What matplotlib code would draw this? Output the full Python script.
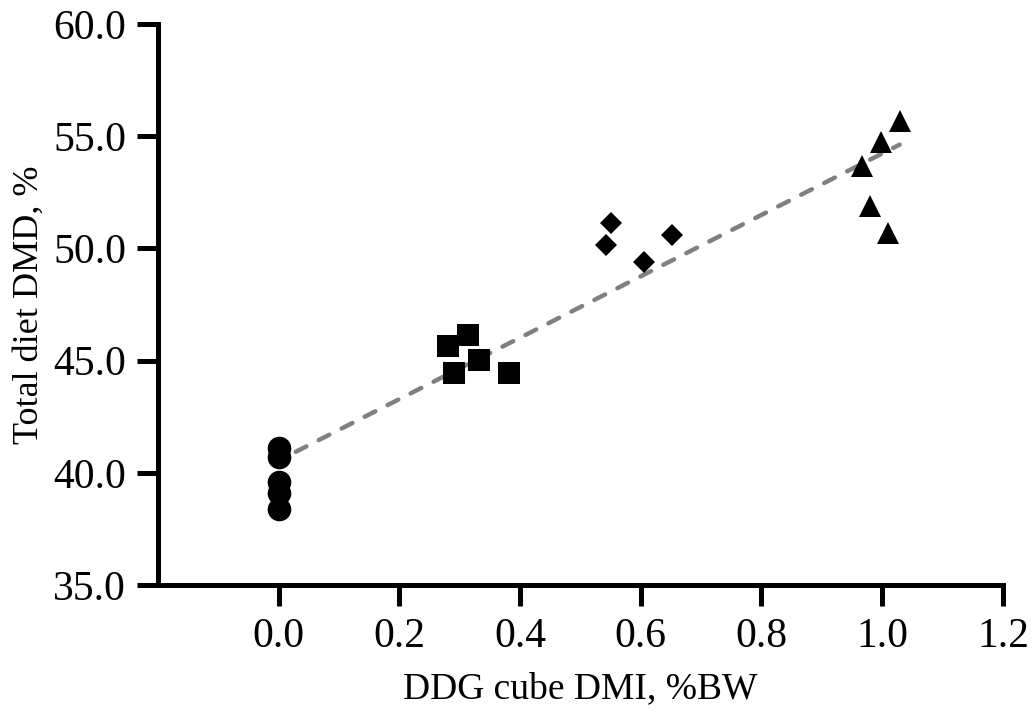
import numpy as np
import matplotlib
matplotlib.use("Agg")
import matplotlib.pyplot as plt
from matplotlib.ticker import FormatStrFormatter

# Data
circle_x = [0.0, 0.0, 0.0, 0.0, 0.0]
circle_y = [41.1, 40.7, 39.6, 39.1, 38.4]
square_x = [0.281, 0.314, 0.332, 0.291, 0.381]
square_y = [45.65, 46.14, 45.05, 44.47, 44.43]
diamond_x = [0.550, 0.542, 0.606, 0.651]
diamond_y = [51.15, 50.14, 49.41, 50.60]
triangle_x = [1.029, 0.998, 0.966, 0.980, 1.010]
triangle_y = [55.70, 54.74, 53.66, 51.90, 50.70]
x_ticks = [0.0, 0.2, 0.4, 0.6, 0.8, 1.0, 1.2]
y_ticks = [35.0, 40.0, 45.0, 50.0, 55.0, 60.0]

plt.rcParams['font.family'] = ['Liberation Serif', 'DejaVu Serif']

fig = plt.figure(figsize=(10.36, 7.17), dpi=100)
ax = fig.add_axes([0.1525, 0.184, 0.8155, 0.7825])

all_x = np.array(circle_x + square_x + diamond_x + triangle_x)
all_y = np.array(circle_y + square_y + diamond_y + triangle_y)
slope, intercept = np.polyfit(all_x, all_y, 1)
xs = np.array([all_x.min(), all_x.max()])
ax.plot(xs, slope * xs + intercept, color='#808080', lw=3.2,
        linestyle=(1.5, (2.7, 3.1)), dash_capstyle='round', zorder=1)

ax.plot(circle_x, circle_y, 'o', color='black', ms=17, mew=0, zorder=3)
ax.plot(square_x, square_y, 's', color='black', ms=16.5, mew=0, zorder=3)
ax.plot(diamond_x, diamond_y, 'D', color='black', ms=11.7, mew=0, zorder=3)
ax.plot(triangle_x, triangle_y, '^', color='black', ms=16.3, mew=0, zorder=3)

ax.set_xlim(-0.2, 1.2)
ax.set_ylim(35, 60)
ax.set_xticks(x_ticks)
ax.set_yticks(y_ticks)
ax.xaxis.set_major_formatter(FormatStrFormatter('%.1f'))
ax.yaxis.set_major_formatter(FormatStrFormatter('%.1f'))

for s in ['top', 'right']:
    ax.spines[s].set_visible(False)
for s in ['left', 'bottom']:
    ax.spines[s].set_linewidth(3.6)
ax.tick_params(axis='both', width=3.6, length=15, labelsize=30, pad=8)

ax.set_xlabel('DDG cube DMI, %BW', fontsize=27, labelpad=12)
ax.set_ylabel('Total diet DMD, %', fontsize=26, labelpad=5)

fig.savefig('out.png', dpi=100)
